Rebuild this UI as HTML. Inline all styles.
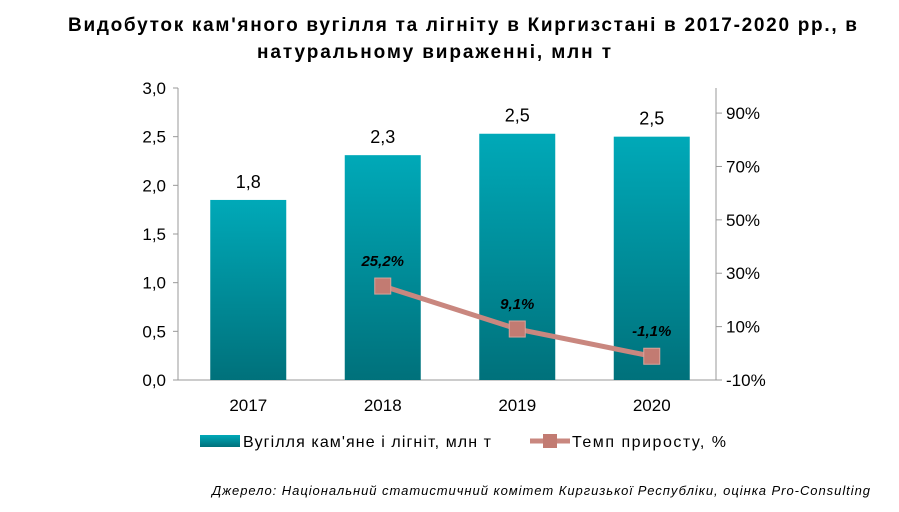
<!DOCTYPE html>
<html><head><meta charset="utf-8"><style>
body{margin:0;background:#fff;width:899px;height:507px;overflow:hidden;font-family:"Liberation Sans",sans-serif}
</style></head><body>
<svg id="chart" width="899" height="507" xmlns="http://www.w3.org/2000/svg">
<defs><linearGradient id="bg" x1="0" y1="0" x2="0" y2="1"><stop offset="0" stop-color="#00a9b8"/><stop offset="1" stop-color="#00717b"/></linearGradient></defs>
<text x="68" y="31" font-size="19" font-weight="bold" textLength="789" lengthAdjust="spacing">Видобуток кам'яного  вугілля та лігніту  в Киргизстані  в 2017-2020 рр., в</text>
<text x="257" y="58" font-size="19" font-weight="bold" textLength="354" lengthAdjust="spacing">натуральному  вираженні,  млн т</text>
<g id="plot"></g>
<rect x="200" y="435" width="40" height="12" fill="url(#bg)"/>
<text x="243" y="447" font-size="16" textLength="248" lengthAdjust="spacing">Вугілля кам'яне і лігніт,  млн т</text>
<line x1="530" y1="441" x2="570" y2="441" stroke="#c9877f" stroke-width="5"/>
<rect x="543" y="434" width="14" height="14" fill="#c27b72"/>
<text x="572" y="447" font-size="16" textLength="154" lengthAdjust="spacing">Темп приросту, %</text>
<text x="212" y="495" font-size="13" font-style="italic" textLength="658" lengthAdjust="spacing">Джерело: Національний статистичний комітет Киргизької Республіки, оцінка Pro-Consulting</text>
</svg>
<script>
const categories=["2017","2018","2019","2020"];
const volumes=[1.85,2.31,2.53,2.50];
const volumeLabels=["1,8","2,3","2,5","2,5"];
const growth=[null,25.2,9.1,-1.1];
const growthLabels=["","25,2%","9,1%","-1,1%"];
const leftTicks=[0,0.5,1,1.5,2,2.5,3];
const leftTickLabels=["0,0","0,5","1,0","1,5","2,0","2,5","3,0"];
const rightTicks=[-10,10,30,50,70,90];
const rightTickLabels=["-10%","10%","30%","50%","70%","90%"];
const L=178,R=716,T=88,B=380;
const yL=v=>B-(v/3)*(B-T);
const yR=v=>B-(v+10)/109.4*(B-T);
const bw=(R-L)/categories.length;
const xC=i=>L+3+bw*(i+0.5);
const NS="http://www.w3.org/2000/svg";
const g=document.getElementById('plot');
function mk(t,a,txt){const e=document.createElementNS(NS,t);for(const k in a)e.setAttribute(k,a[k]);if(txt!=null)e.textContent=txt;g.appendChild(e);return e;}
let e;
e=mk('line',{x1:L,y1:T,x2:L,y2:B,stroke:'#999'});


e=mk('line',{x1:R,y1:T,x2:R,y2:B,stroke:'#999'});


e=mk('line',{x1:L,y1:B,x2:R+6,y2:B,stroke:'#999'});


leftTicks.forEach((v,i)=>{
 e=mk('text',{x:L-12,y:yL(v)+6,'text-anchor':'end','font-size':17},leftTickLabels[i]);
 
 
 e=mk('line',{x1:L-5,y1:yL(v),x2:L,y2:yL(v),stroke:'#999'});
 
 
});
rightTicks.forEach((v,i)=>{
 e=mk('text',{x:R+10,y:yR(v)+6,'font-size':17},rightTickLabels[i]);
 
 
 e=mk('line',{x1:R,y1:yR(v),x2:R+6,y2:yR(v),stroke:'#999'});
 
 
});
categories.forEach((c,i)=>{
 const x=xC(i);
 e=mk('rect',{x:x-38,y:yL(volumes[i]),width:76,height:B-yL(volumes[i]),fill:'url(#bg)'});
 
 
 e=mk('text',{x:x,y:yL(volumes[i])-12,'text-anchor':'middle','font-size':18},volumeLabels[i]);
 
 
 e=mk('text',{x:x,y:B+31,'text-anchor':'middle','font-size':17},c);
 
 
});
const pts=[];growth.forEach((v,i)=>{if(v!==null)pts.push([xC(i),yR(v),i]);});
e=mk('polyline',{points:pts.map(p=>p[0]+','+p[1]).join(' '),fill:'none',stroke:'#c9877f','stroke-width':5});


pts.forEach(p=>{
 e=mk('rect',{x:p[0]-8,y:p[1]-8,width:16,height:16,fill:'#c27b72',stroke:'#d9a39b','stroke-width':1});
 
 
 e=mk('text',{x:p[0],y:p[1]-20,'text-anchor':'middle','font-size':15,'font-weight':'bold','font-style':'italic'},growthLabels[p[2]]);
 
 
});
</script>
</body></html>
